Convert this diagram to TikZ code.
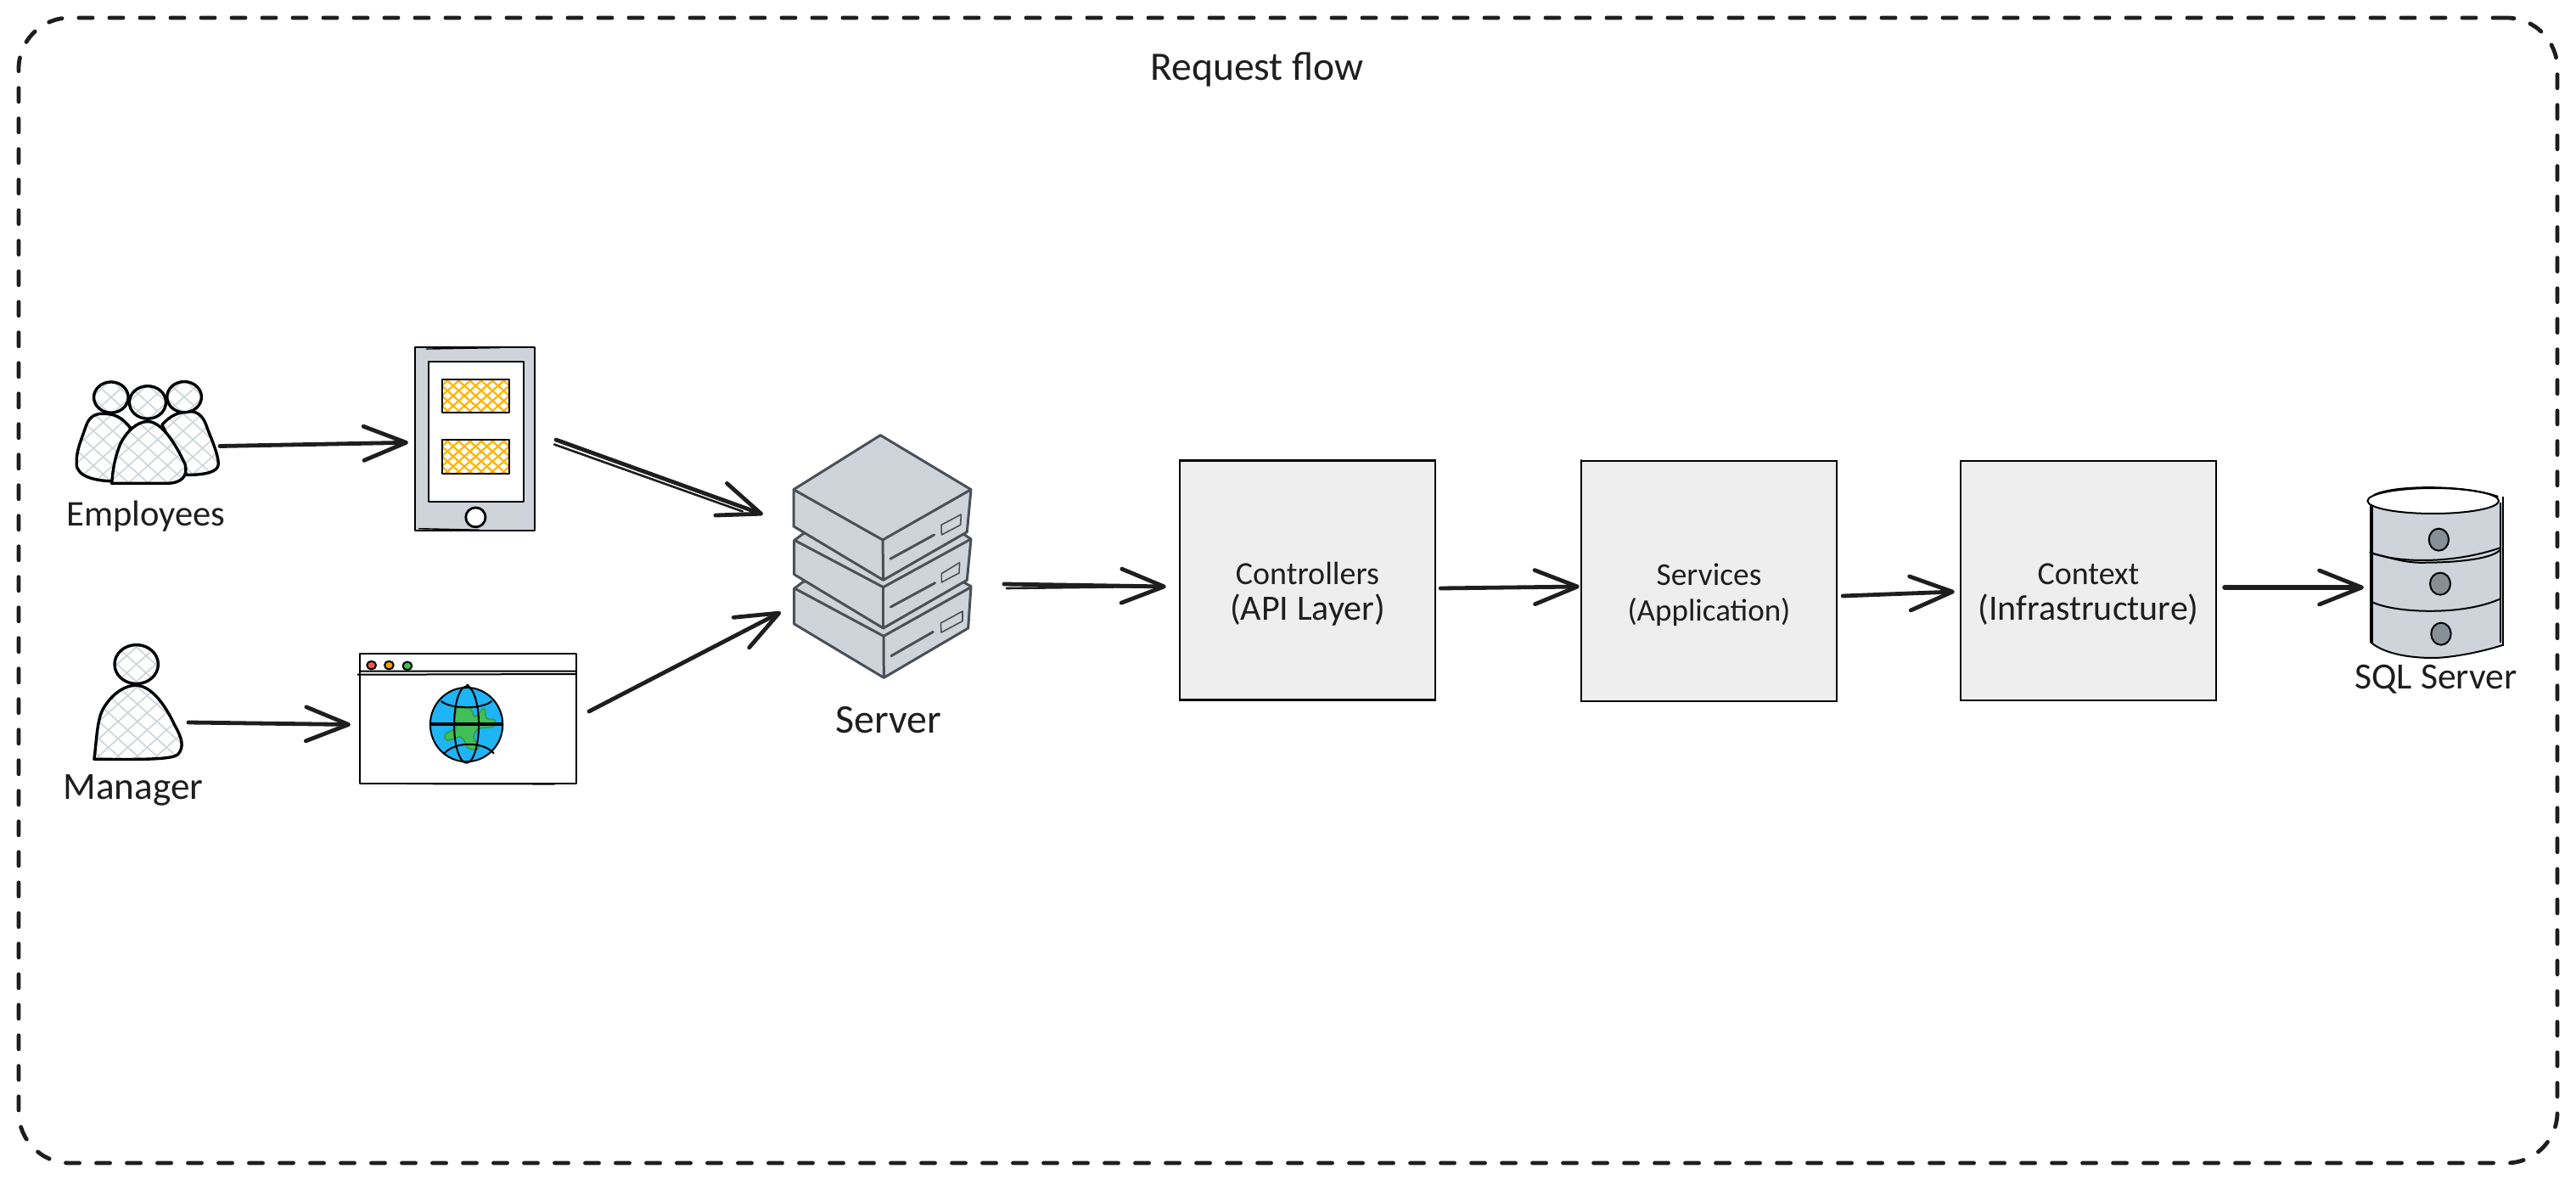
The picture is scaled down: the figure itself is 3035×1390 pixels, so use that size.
\documentclass[tikz,border=0pt]{standalone}
\usepackage{fontspec}
\setmainfont{Carlito}
\usetikzlibrary{arrows.meta}
\definecolor{ink}{HTML}{1E1E1E}
\definecolor{pale}{HTML}{CED4DA}
\definecolor{srvline}{HTML}{495057}
\definecolor{boxfill}{HTML}{EEEEEE}
\definecolor{amber}{HTML}{FFB400}
\definecolor{sky}{HTML}{1EB4F5}
\definecolor{leaf}{HTML}{40C057}
\definecolor{leafedge}{HTML}{2F9E44}
\definecolor{dotred}{HTML}{FA5252}
\definecolor{dotorange}{HTML}{F59F00}
\definecolor{dotgrey}{HTML}{868E96}
\newcommand{\fsz}[1]{\fontsize{#1pt}{21pt}\selectfont}
\newcommand{\xhatch}[7]{%
  \begin{scope}
    \clip #1;
    \fill[white] #1;
    \foreach \k in {-12,...,12}{
      \draw[#2,line width=#7] ({#4+\k*#3-#6},{#5-#6}) -- ({#4+\k*#3+#6},{#5+#6});
      \draw[#2,line width=#7] ({#4+\k*#3+#6},{#5-#6}) -- ({#4+\k*#3-#6},{#5+#6});
    }
  \end{scope}}
\tikzset{
  lbl/.style={font=\fontsize{19pt}{21pt}\selectfont,text=ink,align=center,inner sep=0pt},
  layerbox/.style={draw=black,fill=boxfill,line width=1.2pt,minimum width=150.5pt,minimum height=141pt,inner sep=0pt},
  iconbox/.style={inner sep=0pt,outer sep=0pt},
  flow/.style={draw=ink,line width=2.4pt,line cap=round,-{Straight Barb[length=25pt,width=20pt,round]}},
  flowextra/.style={draw=ink,line width=1.3pt,line cap=round},
  person/.style={draw=black,line width=1.7pt,line join=round},
  srv/.style={draw=srvline,fill=pale,line width=1.5pt,line join=round},
  srvmark/.style={draw=srvline,line width=1.5pt,line cap=round},
  srvslot/.style={draw=srvline,line width=0.8pt,line join=round},
  sk/.style={draw=black,line width=1pt,line join=round},
  skextra/.style={draw=black,line width=0.7pt,line cap=round},
}
\begin{document}
\begin{tikzpicture}[x=0.5pt,y=-0.5pt]
\useasboundingbox (0,0) rectangle (3035,1390);
\fill[white] (0,0) rectangle (3035,1390);

% frame
\node[draw=ink,line width=2.4pt,line cap=round,dash pattern=on 8pt off 10pt,rounded corners=30pt,
  minimum width=1495.5pt,minimum height=674.5pt,inner sep=0pt] (frame) at (1517.5,695.5) {};
\node[lbl,font=\fontsize{23.8pt}{26pt}\selectfont] (title) at (1481,82) {Request flow};

% anchors for the icons
\node[iconbox,minimum width=83.5pt,minimum height=60pt] (emp) at (173.5,509.5) {};
\node[iconbox,minimum width=52.5pt,minimum height=67.5pt] (mgr) at (163.5,827.5) {};
\node[iconbox,minimum width=70.5pt,minimum height=108pt] (phone) at (559.5,517) {};
\node[iconbox,minimum width=127.5pt,minimum height=76.5pt] (browser) at (551.5,846.5) {};
\node[iconbox,minimum width=105pt,minimum height=142.5pt] (server) at (1040,655.5) {};
\node[iconbox,minimum width=81pt,minimum height=101pt] (db) at (2870,674) {};

% people + devices (drawn in the crop's coordinates)
\begin{scope}[shift={(50,380)},xscale=0.41459,yscale=0.36996]
  % left body
  \def\pa{(250,335) .. controls (225,300) and (205,290) .. (170,290) .. controls (145,290) and (130,305) .. (122,335) .. controls (110,375) and (95,410) .. (97,450) .. controls (97,490) and (150,505) .. (205,505) -- cycle}
  \xhatch{\pa}{pale}{55}{200}{400}{320}{0.8pt}
  \draw[person] \pa;
  % right body
  \def\pb{(340,325) .. controls (365,295) and (385,285) .. (420,283) .. controls (445,283) and (460,305) .. (468,335) .. controls (480,370) and (500,420) .. (500,450) .. controls (500,475) and (465,485) .. (410,485) -- cycle}
  \xhatch{\pb}{pale}{55}{400}{400}{320}{0.8pt}
  \draw[person] \pb;
  % heads
  \def\pc{(195,238) circle [radius=49]}
  \xhatch{\pc}{pale}{55}{195}{238}{320}{0.8pt}
  \draw[person] \pc;
  \def\pd{(403,237) circle [radius=49]}
  \xhatch{\pd}{pale}{55}{403}{237}{320}{0.8pt}
  \draw[person] \pd;
  \def\pe{(299,254) circle [radius=52]}
  \xhatch{\pe}{pale}{55}{299}{254}{320}{0.8pt}
  \draw[person] \pe;
  % centre body
  \def\pf{(197,512) .. controls (200,470) and (205,430) .. (222,385) .. controls (240,345) and (270,315) .. (299,315) .. controls (340,315) and (380,390) .. (405,450) .. controls (415,490) and (395,512) .. (350,512) -- cycle}
  \xhatch{\pf}{pale}{55}{300}{400}{320}{0.8pt}
  \draw[person] \pf;
  % manager
  \def\pg{(267,1088) circle [radius=62]}
  \xhatch{\pg}{pale}{55}{267}{1088}{320}{0.8pt}
  \draw[person] \pg;
  \def\ph{(147,1390) .. controls (155,1320) and (155,1260) .. (175,1225) .. controls (200,1180) and (235,1155) .. (265,1155) .. controls (310,1155) and (350,1220) .. (375,1280) .. controls (395,1320) and (405,1350) .. (385,1375) .. controls (370,1390) and (300,1392) .. (147,1390) -- cycle}
  \xhatch{\ph}{pale}{55}{270}{1270}{320}{0.8pt}
  \draw[person] \ph;
  % phone
  \fill[pale] (1058,78) rectangle (1400,663);
  \draw[sk] (1058,78) rectangle (1400,663);
  \draw[skextra] (1092,84) -- (1300,80) (1070,656) -- (1240,660);
  \fill[white] (1097,123) rectangle (1367,570);
  \draw[sk] (1097,123) rectangle (1367,570);
  \def\pi{(1136,180) rectangle (1327,287)}
  \xhatch{\pi}{amber}{32}{1231}{233}{160}{1.1pt}
  \draw[sk] \pi;
  \def\pj{(1136,372) rectangle (1327,480)}
  \xhatch{\pj}{amber}{32}{1231}{426}{160}{1.1pt}
  \draw[sk] \pj;
  \draw[sk,fill=white,line width=1.4pt] (1231,620) ellipse [x radius=28,y radius=31];
  % browser
  \draw[sk,fill=white] (902,1055) rectangle (1518,1468);
  \draw[skextra] (1035,1469) -- (1455,1470);
  \draw[sk] (902,1110) -- (1518,1110) (895,1121) -- (1518,1119);
  \draw[sk,fill=dotred] (935,1091) circle [radius=13];
  \draw[sk,fill=dotorange] (985,1091) circle [radius=13];
  \draw[sk,fill=leaf] (1037,1093) circle [radius=13];
  \draw[sk,fill=sky] (1205,1280) ellipse [x radius=103,y radius=118];
  \fill[leaf,draw=leafedge,line width=0.8pt] plot[smooth cycle,tension=0.5] coordinates {(1175,1240) (1182,1222) (1215,1228) (1230,1255) (1255,1228) (1262,1260) (1285,1265) (1280,1287) (1240,1292) (1225,1320) (1240,1355) (1210,1355) (1190,1320) (1150,1330) (1145,1310) (1175,1290) (1172,1260)};
  \draw[sk] (1205,1280) ellipse [x radius=35,y radius=122];
  \draw[sk] (1133,1205) .. controls (1160,1232) and (1250,1232) .. (1277,1205);
  \draw[sk] (1140,1375) .. controls (1165,1335) and (1250,1330) .. (1283,1372);
  \draw[sk,line width=1.8pt] (1100,1278) -- (1310,1278);
  \draw[sk] (1200,1165) -- (1208,1153) -- (1217,1165);
\end{scope}

% server stack (3x crop coordinates)
\begin{scope}[shift={(880,480)},scale=1/3]
  \draw[srv] (200,615) -- (167,640) -- (167,765) -- (484,955) -- (782,780) -- (792,632) -- (765,617) -- cycle;
  \draw[srv,fill=none] (170,640) -- (483,808) -- (792,635);
  \draw[srv,fill=none] (483,808) -- (484,955);
  \draw[srvslot,fill=pale] (685,762) -- (762,720) -- (762,755) -- (687,795) -- cycle;
  \draw[srvmark] (510,878) -- (658,793);

  \draw[srv] (200,445) -- (167,470) -- (167,590) -- (482,780) -- (778,610) -- (792,465) -- (765,447) -- cycle;
  \draw[srv,fill=none] (170,470) -- (482,635) -- (792,465);
  \draw[srv,fill=none] (482,635) -- (482,780);
  \draw[srvslot,fill=pale] (688,587) -- (752,548) -- (750,585) -- (688,618) -- cycle;
  \draw[srvmark] (508,705) -- (665,620);

  \draw[srv] (472,98) -- (792,290) -- (778,440) -- (482,610) -- (165,420) -- (165,290) -- cycle;
  \draw[srv,fill=none] (165,290) -- (480,468) -- (792,290);
  \draw[srv,fill=none] (480,468) -- (482,610);
  \draw[srvslot,fill=pale] (687,415) -- (757,378) -- (755,415) -- (688,450) -- cycle;
  \draw[srvmark] (507,535) -- (662,450);
\end{scope}

% database (3x crop coordinates)
\begin{scope}[shift={(2600,520)},scale=1/3]
  \fill[pale] (580,215) -- (1045,215) -- (1045,720) .. controls (950,750) and (850,765) .. (800,765) .. controls (700,765) and (620,745) .. (580,710) -- cycle;
  \draw[sk] (580,710) .. controls (620,745) and (700,765) .. (800,765) .. controls (850,765) and (950,750) .. (1045,720);
  \draw[sk] (578,225) -- (578,712) (586,230) -- (586,715);
  \draw[sk] (1047,195) -- (1047,722) (1038,215) -- (1038,710);
  \draw[sk] (575,390) .. controls (650,425) and (850,440) .. (1040,375);
  \draw[sk] (580,395) .. controls (650,410) and (700,432) .. (780,428) .. controls (850,428) and (1000,420) .. (1035,385);
  \draw[sk] (580,565) .. controls (650,605) and (900,620) .. (1040,555);
  \draw[sk,fill=white] (800,210) ellipse [x radius=232,y radius=45];
  \draw[sk] (590,190) .. controls (650,155) and (900,150) .. (1030,195);
  \draw[sk,fill=dotgrey] (820,347) ellipse [x radius=35,y radius=39];
  \draw[sk,fill=dotgrey] (825,503) ellipse [x radius=36,y radius=39];
  \draw[sk,fill=dotgrey] (828,680) ellipse [x radius=35,y radius=39];
\end{scope}

% layer boxes
\node[layerbox,label={[lbl,yshift=-8pt]center:\fsz{19}Controllers\\\fsz{21}(API Layer)}] (ctrl) at (1540.5,683.5) {};
\node[layerbox,minimum height=141.5pt,label={[lbl,yshift=-8pt]center:\fsz{18.7}Services\\\fsz{18.5}(Application)}] (svc) at (2013.5,684.5) {};
\node[layerbox,label={[lbl,yshift=-8pt]center:\fsz{19}Context\\\fsz{21}(Infrastructure)}] (ctx) at (2460.5,684) {};
% second pencil strokes on the box edges
\draw[skextra] ([shift={(35,1)}]ctrl.north west) -- ([shift={(215,1)}]ctrl.north west);
\draw[skextra] ([shift={(0.5,38)}]ctrl.north west) -- ([shift={(0.5,222)}]ctrl.north west);
\draw[skextra] ([shift={(48,1)}]svc.north west) -- ([shift={(240,1)}]svc.north west);
\draw[skextra] ([shift={(1,0)}]svc.north west) -- ([shift={(1,282)}]svc.north west);
\draw[skextra] ([shift={(0.5,100)}]ctx.north west) -- ([shift={(0.5,240)}]ctx.north west);
\draw[skextra] ([shift={(-1,30)}]ctx.north east) -- ([shift={(-1,270)}]ctx.north east);

% labels
\node[lbl,font=\fontsize{21.3pt}{24pt}\selectfont] (emplabel) at (172,608) {Employees};
\node[lbl,font=\fontsize{22.6pt}{24pt}\selectfont] (mgrlabel) at (157,931) {Manager};
\node[lbl,font=\fontsize{24pt}{26pt}\selectfont] (srvlabel) at (1047,848) {Server};
\node[lbl,font=\fontsize{21.8pt}{24pt}\selectfont] (dblabel) at (2870,800) {SQL Server};

% connectors
\draw[flow] ([shift={(2,16)}]emp.east) -- ([shift={(-8,4.3)}]phone.west);
\draw[flow] ([shift={(6,23.5)}]mgr.east) -- ([shift={(-11,7)}]browser.west);
\draw[flow] ([shift={(25,1)}]phone.east) -- ([shift={(-36,-49.5)}]server.west);
\draw[flowextra] ([shift={(23,6.5)}]phone.east) -- ([shift={(-60,-53)}]server.west);
\draw[flow] ([shift={(15,-8.5)}]browser.east) -- ([shift={(-15,65.5)}]server.west);
\draw[flow] ([shift={(38,32.5)}]server.east) -- ([shift={(-15,7.5)}]ctrl.west);
\draw[flowextra] ([shift={(41,37.5)}]server.east) -- ([shift={(-40,7.5)}]ctrl.west);
\draw[flow] ([shift={(5,9.5)}]ctrl.east) -- ([shift={(-1,6.5)}]svc.west);
\draw[flow] ([shift={(6,17.5)}]svc.east) -- ([shift={(-6,13)}]ctx.west);
\draw[flow,line width=3pt,-{Straight Barb[length=25pt,width=20pt,round,line width=2.4pt]}] ([shift={(9,8)}]ctx.east) -- ([shift={(-4,18)}]db.west);
\end{tikzpicture}
\end{document}
